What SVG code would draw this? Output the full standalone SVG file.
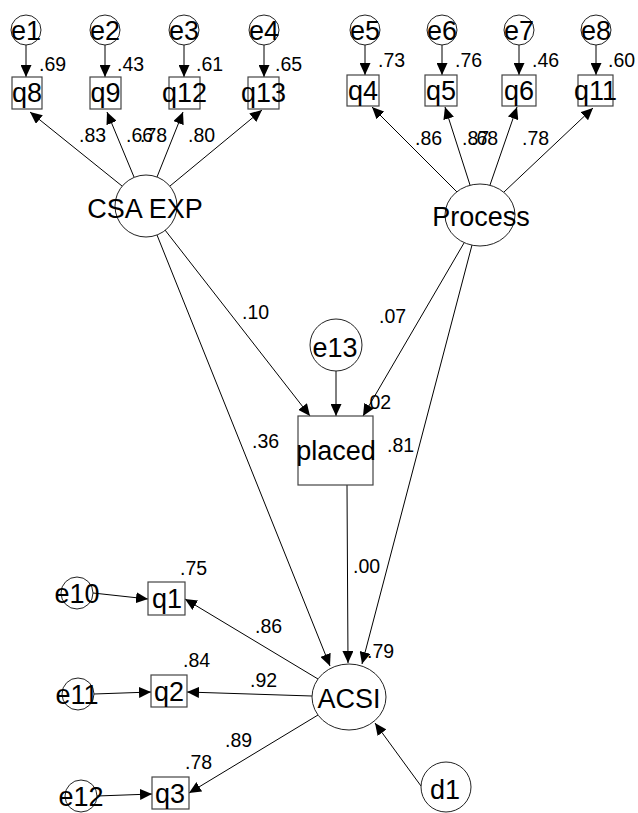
<svg xmlns="http://www.w3.org/2000/svg" width="638" height="813" viewBox="0 0 638 813">
<style>
.bg{fill:#fff}
.c{fill:#fff;stroke:#222;stroke-width:1}
.b{fill:#fff;stroke:#444;stroke-width:1.2}
.n{font-family:"Liberation Sans",Arial,sans-serif;font-size:27px;fill:#000;text-anchor:middle}
.l{font-family:"Liberation Sans",Arial,sans-serif;font-size:19.5px;fill:#000}
.e{stroke:#000;stroke-width:1;fill:none;marker-end:url(#ah)}
</style>
<defs>
<marker id="ah" markerUnits="userSpaceOnUse" markerWidth="12" markerHeight="11" viewBox="0 0 12 11" refX="12" refY="5.5" orient="auto">
<path d="M0,0 L12,5.5 L0,11 z" fill="#000"/>
</marker>
</defs>
<rect class="bg" x="0" y="0" width="638" height="813"/>
<g id="connectors">
<line class="e" x1="26" y1="45" x2="26" y2="77"/>
<line class="e" x1="105" y1="45" x2="105" y2="77"/>
<line class="e" x1="184" y1="45" x2="184" y2="77"/>
<line class="e" x1="264" y1="45" x2="264" y2="77"/>
<line class="e" x1="365" y1="45" x2="365" y2="75"/>
<line class="e" x1="442" y1="45" x2="442" y2="75"/>
<line class="e" x1="519" y1="45" x2="519" y2="75"/>
<line class="e" x1="596" y1="45" x2="596" y2="75"/>
<line class="e" x1="122" y1="186" x2="30" y2="112"/>
<line class="e" x1="134" y1="177" x2="107" y2="112"/>
<line class="e" x1="157" y1="177" x2="183" y2="112"/>
<line class="e" x1="170" y1="186" x2="262" y2="110"/>
<line class="e" x1="457" y1="192" x2="372" y2="107"/>
<line class="e" x1="470" y1="185" x2="445" y2="107"/>
<line class="e" x1="490" y1="185" x2="517" y2="107"/>
<line class="e" x1="504" y1="192" x2="593" y2="108"/>
<line class="e" x1="165" y1="230" x2="310" y2="416"/>
<line class="e" x1="157" y1="235" x2="330" y2="666"/>
<line class="e" x1="464" y1="243" x2="363" y2="416"/>
<line class="e" x1="472" y1="245" x2="362" y2="664"/>
<line class="e" x1="336" y1="371" x2="336" y2="416"/>
<line class="e" x1="347" y1="485" x2="348" y2="663"/>
<line class="e" x1="318" y1="679" x2="185" y2="599"/>
<line class="e" x1="312" y1="696" x2="187" y2="692"/>
<line class="e" x1="318" y1="715" x2="189" y2="793"/>
<line class="e" x1="421" y1="786" x2="375" y2="723"/>
<line class="e" x1="93" y1="593" x2="148" y2="599"/>
<line class="e" x1="94" y1="694" x2="151" y2="692"/>
<line class="e" x1="97" y1="796" x2="152" y2="794"/>
</g>
<g id="e1"><circle class="c" cx="26" cy="30" r="15"/><text class="n" x="26" y="40">e1</text></g>
<g id="e2"><circle class="c" cx="105" cy="30" r="15"/><text class="n" x="105" y="40">e2</text></g>
<g id="e3"><circle class="c" cx="184" cy="30" r="15"/><text class="n" x="184" y="40">e3</text></g>
<g id="e4"><circle class="c" cx="264" cy="30" r="15"/><text class="n" x="264" y="40">e4</text></g>
<g id="e5"><circle class="c" cx="365" cy="30" r="15"/><text class="n" x="365" y="40">e5</text></g>
<g id="e6"><circle class="c" cx="442" cy="30" r="15"/><text class="n" x="442" y="40">e6</text></g>
<g id="e7"><circle class="c" cx="519" cy="30" r="15"/><text class="n" x="519" y="40">e7</text></g>
<g id="e8"><circle class="c" cx="596" cy="30" r="15"/><text class="n" x="596" y="40">e8</text></g>
<g id="q8"><rect class="b" x="12" y="77" width="30" height="32"/><text class="n" x="27" y="102">q8</text></g>
<g id="q9"><rect class="b" x="90" y="77" width="31" height="32"/><text class="n" x="105.5" y="102">q9</text></g>
<g id="q12"><rect class="b" x="169" y="77" width="31" height="32"/><text class="n" x="184.5" y="102">q12</text></g>
<g id="q13"><rect class="b" x="248" y="77" width="31" height="32"/><text class="n" x="263.5" y="102">q13</text></g>
<g id="q4"><rect class="b" x="347" y="75" width="32" height="31"/><text class="n" x="363" y="100">q4</text></g>
<g id="q5"><rect class="b" x="425" y="75" width="32" height="31"/><text class="n" x="441" y="100">q5</text></g>
<g id="q6"><rect class="b" x="502" y="75" width="34" height="31"/><text class="n" x="519" y="100">q6</text></g>
<g id="q11"><rect class="b" x="578" y="75" width="35" height="31"/><text class="n" x="595.5" y="100">q11</text></g>
<g id="csaexp"><circle class="c" cx="146" cy="206" r="31"/><text class="n" x="145" y="218">CSA EXP</text></g>
<g id="process"><ellipse class="c" cx="480" cy="215" rx="35" ry="31"/><text class="n" x="481" y="226">Process</text></g>
<g id="e13"><circle class="c" cx="336" cy="345" r="26"/><text class="n" x="335" y="357">e13</text></g>
<g id="placed"><rect class="b" x="298" y="416" width="75" height="69"/><text class="n" x="336" y="460">placed</text></g>
<g id="acsi"><ellipse class="c" cx="349" cy="697" rx="37" ry="33"/><text class="n" x="349" y="708">ACSI</text></g>
<g id="d1"><circle class="c" cx="446" cy="787" r="25"/><text class="n" x="445" y="799">d1</text></g>
<g id="e10"><circle class="c" cx="77" cy="593" r="16"/><text class="n" x="77" y="603">e10</text></g>
<g id="q1"><rect class="b" x="148" y="582" width="37" height="33"/><text class="n" x="167" y="608">q1</text></g>
<g id="e11"><circle class="c" cx="78" cy="694" r="16"/><text class="n" x="77" y="704">e11</text></g>
<g id="q2"><rect class="b" x="151" y="675" width="36" height="32"/><text class="n" x="169" y="701">q2</text></g>
<g id="e12"><circle class="c" cx="81" cy="796" r="16"/><text class="n" x="81" y="806">e12</text></g>
<g id="q3"><rect class="b" x="152" y="777" width="37" height="32"/><text class="n" x="170" y="803">q3</text></g>
<g id="labels">
<text class="l" x="39" y="71">.69</text>
<text class="l" x="117" y="71">.43</text>
<text class="l" x="196" y="71">.61</text>
<text class="l" x="275" y="71">.65</text>
<text class="l" x="79" y="142">.83</text>
<text class="l" x="126" y="142">.66</text>
<text class="l" x="140" y="142">.78</text>
<text class="l" x="188" y="142">.80</text>
<text class="l" x="378" y="67">.73</text>
<text class="l" x="455" y="67">.76</text>
<text class="l" x="532" y="67">.46</text>
<text class="l" x="608" y="67">.60</text>
<text class="l" x="415" y="145">.86</text>
<text class="l" x="462" y="145">.87</text>
<text class="l" x="471" y="145">.68</text>
<text class="l" x="522" y="145">.78</text>
<text class="l" x="242" y="319">.10</text>
<text class="l" x="379" y="323">.07</text>
<text class="l" x="364" y="409">.02</text>
<text class="l" x="252" y="448">.36</text>
<text class="l" x="387" y="452">.81</text>
<text class="l" x="353" y="573">.00</text>
<text class="l" x="367" y="658">.79</text>
<text class="l" x="255" y="633">.86</text>
<text class="l" x="250" y="687">.92</text>
<text class="l" x="225" y="747">.89</text>
<text class="l" x="180" y="575">.75</text>
<text class="l" x="183" y="667">.84</text>
<text class="l" x="185" y="769">.78</text>
</g>
</svg>
